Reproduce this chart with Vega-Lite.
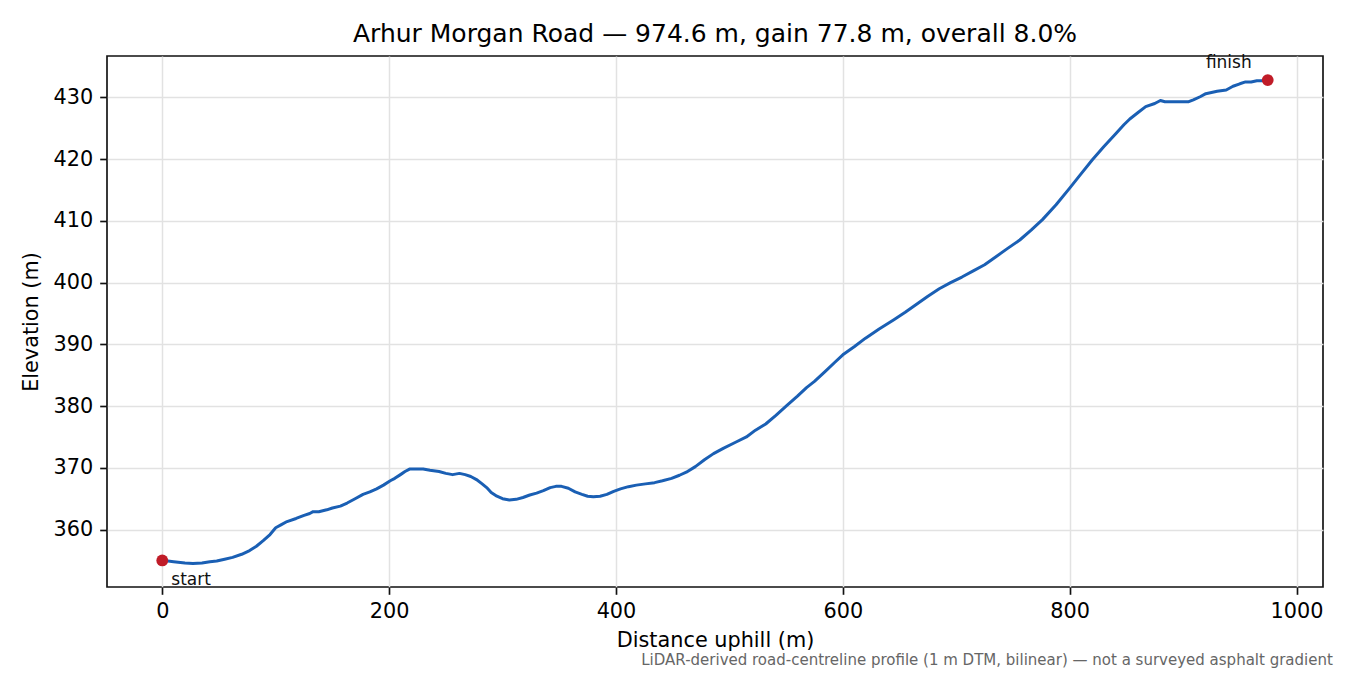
{
  "$schema": "https://vega.github.io/schema/vega-lite/v6.json",
  "background": "white",
  "padding": {"left": 19, "top": 20, "right": 14, "bottom": 6},
  "title": {
    "text": "LiDAR-derived road-centreline profile (1 m DTM, bilinear) — not a surveyed asphalt gradient",
    "orient": "bottom",
    "anchor": "end",
    "fontSize": 15,
    "fontWeight": "normal",
    "color": "#666666",
    "font": "DejaVu Sans",
    "offset": 2,
    "dx": 9
  },
  "datasets": {
    "profile": [
      {"distance": 0, "elevation": 355.0},
      {"distance": 5, "elevation": 354.9},
      {"distance": 10, "elevation": 354.8},
      {"distance": 20, "elevation": 354.6},
      {"distance": 27, "elevation": 354.5},
      {"distance": 35, "elevation": 354.6},
      {"distance": 42, "elevation": 354.8},
      {"distance": 48, "elevation": 354.9},
      {"distance": 55, "elevation": 355.2},
      {"distance": 62, "elevation": 355.5},
      {"distance": 70, "elevation": 356.0},
      {"distance": 77, "elevation": 356.6},
      {"distance": 83, "elevation": 357.3},
      {"distance": 89, "elevation": 358.2},
      {"distance": 95, "elevation": 359.2},
      {"distance": 100, "elevation": 360.3},
      {"distance": 105, "elevation": 360.8},
      {"distance": 110, "elevation": 361.3},
      {"distance": 118, "elevation": 361.8},
      {"distance": 125, "elevation": 362.3},
      {"distance": 130, "elevation": 362.6},
      {"distance": 133, "elevation": 362.9},
      {"distance": 138, "elevation": 362.9},
      {"distance": 145, "elevation": 363.2},
      {"distance": 150, "elevation": 363.5},
      {"distance": 157, "elevation": 363.8},
      {"distance": 163, "elevation": 364.3},
      {"distance": 170, "elevation": 365.0},
      {"distance": 177, "elevation": 365.7},
      {"distance": 183, "elevation": 366.1},
      {"distance": 189, "elevation": 366.6},
      {"distance": 195, "elevation": 367.2},
      {"distance": 201, "elevation": 367.9},
      {"distance": 205, "elevation": 368.3},
      {"distance": 210, "elevation": 368.9},
      {"distance": 214, "elevation": 369.4},
      {"distance": 218, "elevation": 369.8},
      {"distance": 223, "elevation": 369.8},
      {"distance": 230, "elevation": 369.8},
      {"distance": 236, "elevation": 369.6},
      {"distance": 244, "elevation": 369.4},
      {"distance": 250, "elevation": 369.1},
      {"distance": 256, "elevation": 368.9},
      {"distance": 262, "elevation": 369.1},
      {"distance": 267, "elevation": 368.9},
      {"distance": 272, "elevation": 368.6},
      {"distance": 277, "elevation": 368.1},
      {"distance": 282, "elevation": 367.4},
      {"distance": 286, "elevation": 366.8},
      {"distance": 290, "elevation": 366.0},
      {"distance": 295, "elevation": 365.4},
      {"distance": 300, "elevation": 365.0},
      {"distance": 306, "elevation": 364.8},
      {"distance": 312, "elevation": 364.9},
      {"distance": 318, "elevation": 365.2},
      {"distance": 324, "elevation": 365.6},
      {"distance": 330, "elevation": 365.9},
      {"distance": 336, "elevation": 366.3},
      {"distance": 342, "elevation": 366.8},
      {"distance": 347, "elevation": 367.0},
      {"distance": 352, "elevation": 367.0},
      {"distance": 358, "elevation": 366.7},
      {"distance": 364, "elevation": 366.1},
      {"distance": 370, "elevation": 365.7},
      {"distance": 375, "elevation": 365.4},
      {"distance": 380, "elevation": 365.3},
      {"distance": 386, "elevation": 365.4},
      {"distance": 392, "elevation": 365.7},
      {"distance": 398, "elevation": 366.2},
      {"distance": 404, "elevation": 366.6},
      {"distance": 411, "elevation": 366.95},
      {"distance": 418, "elevation": 367.2},
      {"distance": 426, "elevation": 367.4},
      {"distance": 434, "elevation": 367.6},
      {"distance": 441, "elevation": 367.9},
      {"distance": 449, "elevation": 368.3},
      {"distance": 456, "elevation": 368.8},
      {"distance": 462, "elevation": 369.3},
      {"distance": 470, "elevation": 370.2},
      {"distance": 478, "elevation": 371.3},
      {"distance": 486, "elevation": 372.3},
      {"distance": 495, "elevation": 373.2},
      {"distance": 505, "elevation": 374.1},
      {"distance": 515, "elevation": 375.0},
      {"distance": 523, "elevation": 376.1},
      {"distance": 532, "elevation": 377.1},
      {"distance": 541, "elevation": 378.5},
      {"distance": 550, "elevation": 380.0},
      {"distance": 560, "elevation": 381.6},
      {"distance": 568, "elevation": 383.0},
      {"distance": 575, "elevation": 384.0},
      {"distance": 585, "elevation": 385.7},
      {"distance": 593, "elevation": 387.1},
      {"distance": 600, "elevation": 388.3},
      {"distance": 610, "elevation": 389.6},
      {"distance": 620, "elevation": 391.0},
      {"distance": 632, "elevation": 392.5},
      {"distance": 645, "elevation": 394.0},
      {"distance": 655, "elevation": 395.2},
      {"distance": 665, "elevation": 396.5},
      {"distance": 675, "elevation": 397.8},
      {"distance": 685, "elevation": 399.0},
      {"distance": 695, "elevation": 400.0},
      {"distance": 705, "elevation": 400.9},
      {"distance": 715, "elevation": 401.9},
      {"distance": 725, "elevation": 402.9},
      {"distance": 735, "elevation": 404.2},
      {"distance": 745, "elevation": 405.5},
      {"distance": 756, "elevation": 406.9},
      {"distance": 766, "elevation": 408.5},
      {"distance": 776, "elevation": 410.2},
      {"distance": 788, "elevation": 412.6},
      {"distance": 800, "elevation": 415.3},
      {"distance": 810, "elevation": 417.6},
      {"distance": 820, "elevation": 419.9},
      {"distance": 830, "elevation": 422.0},
      {"distance": 841, "elevation": 424.2},
      {"distance": 848, "elevation": 425.6},
      {"distance": 853, "elevation": 426.5},
      {"distance": 860, "elevation": 427.5},
      {"distance": 867, "elevation": 428.5},
      {"distance": 875, "elevation": 429.0},
      {"distance": 880, "elevation": 429.5},
      {"distance": 884, "elevation": 429.3},
      {"distance": 890, "elevation": 429.3},
      {"distance": 897, "elevation": 429.3},
      {"distance": 905, "elevation": 429.3},
      {"distance": 909, "elevation": 429.6},
      {"distance": 915, "elevation": 430.1},
      {"distance": 920, "elevation": 430.6},
      {"distance": 925, "elevation": 430.8},
      {"distance": 930, "elevation": 431.0},
      {"distance": 938, "elevation": 431.2},
      {"distance": 944, "elevation": 431.8},
      {"distance": 950, "elevation": 432.2},
      {"distance": 955, "elevation": 432.5},
      {"distance": 960, "elevation": 432.5},
      {"distance": 965, "elevation": 432.7},
      {"distance": 970, "elevation": 432.7},
      {"distance": 974.6, "elevation": 432.8}
    ],
    "ends": [
      {"distance": 0, "elevation": 355.0, "label": "start"},
      {"distance": 974.6, "elevation": 432.8, "label": "finish"}
    ]
  },
  "vconcat": [
    {
      "width": 1216,
      "height": 531,
      "title": {
        "text": "Arhur Morgan Road — 974.6 m, gain 77.8 m, overall 8.0%",
        "fontSize": 25,
        "fontWeight": "normal",
        "color": "black",
        "font": "DejaVu Sans",
        "offset": 7
      },
      "encoding": {
        "x": {
          "field": "distance",
          "type": "quantitative",
          "title": "Distance uphill (m)",
          "scale": {"domain": [-48.73, 1023.33], "nice": false, "zero": false},
          "axis": {"values": [0, 200, 400, 600, 800, 1000], "format": "d", "titlePadding": 9}
        },
        "y": {
          "field": "elevation",
          "type": "quantitative",
          "title": "Elevation (m)",
          "scale": {"domain": [350.7, 436.7], "nice": false, "zero": false},
          "axis": {"values": [360, 370, 380, 390, 400, 410, 420, 430], "format": "d", "titlePadding": 12}
        }
      },
      "layer": [
        {
          "data": {"name": "profile"},
          "mark": {"type": "line", "color": "#1a5fb4", "strokeWidth": 3, "strokeJoin": "round"}
        },
        {
          "data": {"name": "ends"},
          "mark": {"type": "circle", "color": "#c01c28", "size": 140, "opacity": 1}
        },
        {
          "data": {"name": "ends"},
          "transform": [{"filter": "datum.label == 'start'"}],
          "mark": {"type": "text", "align": "left", "baseline": "alphabetic", "dx": 9, "dy": 25, "fontSize": 17, "font": "DejaVu Sans", "color": "#111111"},
          "encoding": {"text": {"field": "label"}}
        },
        {
          "data": {"name": "ends"},
          "transform": [{"filter": "datum.label == 'finish'"}],
          "mark": {"type": "text", "align": "right", "baseline": "alphabetic", "dx": -16, "dy": -12.5, "fontSize": 17, "font": "DejaVu Sans", "color": "#111111"},
          "encoding": {"text": {"field": "label"}}
        }
      ]
    }
  ],
  "config": {
    "font": "DejaVu Sans",
    "view": {"stroke": "#111111", "strokeWidth": 1.67},
    "axis": {
      "domain": false,
      "labelFont": "DejaVu Sans",
      "titleFont": "DejaVu Sans",
      "labelFontSize": 20.8,
      "titleFontSize": 20.8,
      "labelColor": "black",
      "titleColor": "black",
      "titleFontWeight": "normal",
      "tickSize": 7.3,
      "tickWidth": 1.67,
      "tickColor": "#111111",
      "labelPadding": 7,
      "gridColor": "#e2e2e2",
      "gridWidth": 1.5
    }
  }
}
